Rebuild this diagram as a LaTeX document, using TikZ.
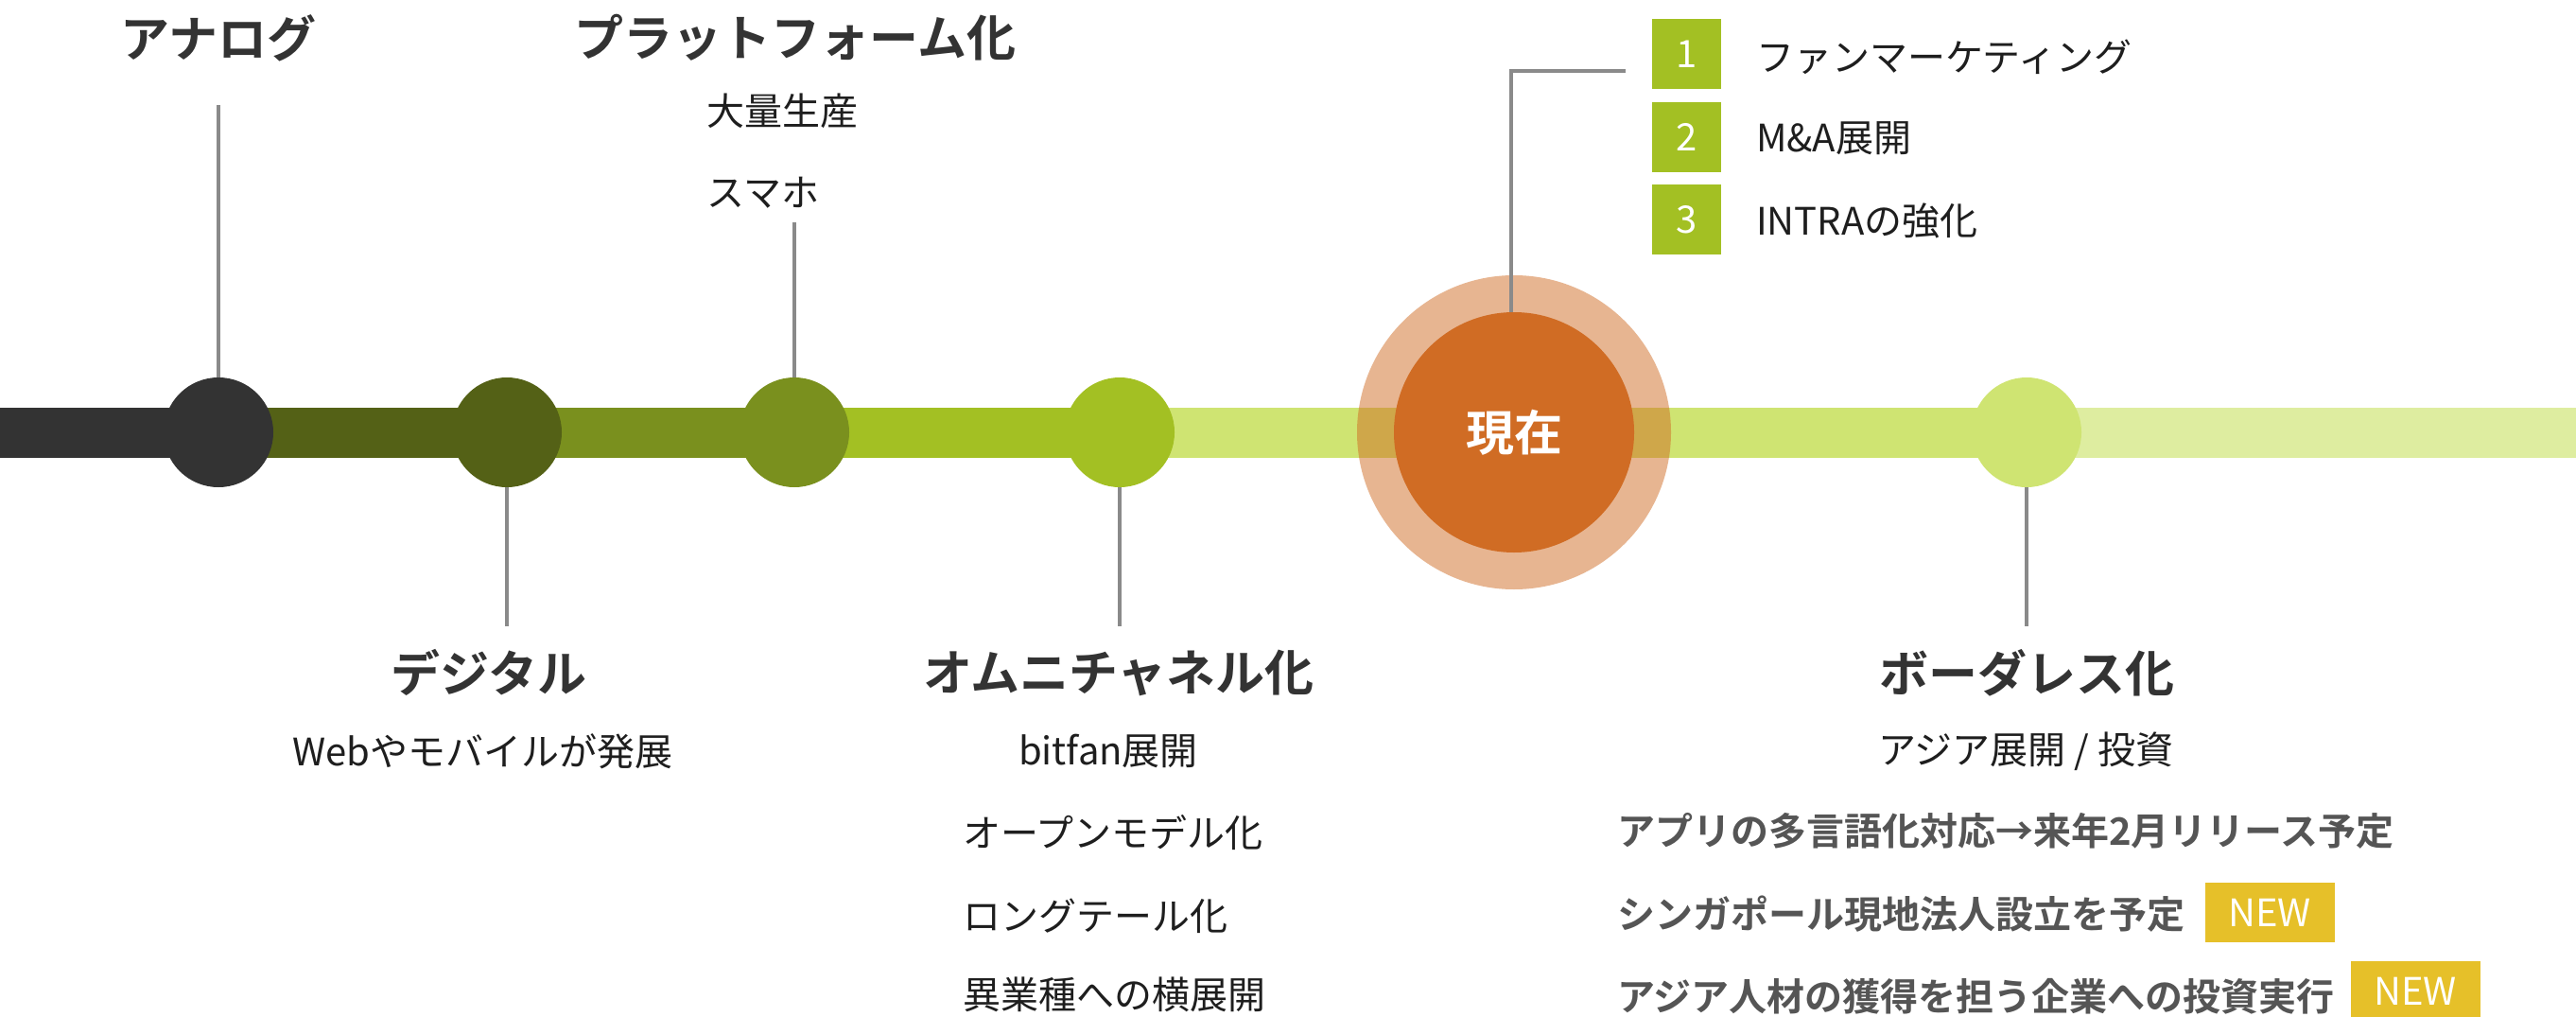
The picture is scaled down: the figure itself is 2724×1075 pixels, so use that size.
\documentclass[tikz,border=0pt]{standalone}
\usepackage{fontspec}
\setmainfont{Noto Sans CJK JP}[BoldFont={Noto Sans CJK JP Bold}]
\definecolor{darkc}{HTML}{333333}
\definecolor{olivea}{HTML}{546116}
\definecolor{oliveb}{HTML}{7A901E}
\definecolor{greenc}{HTML}{A3C023}
\definecolor{lightc}{HTML}{CFE472}
\definecolor{lighterc}{HTML}{DEEDA0}
\definecolor{orangec}{HTML}{D06C24}
\definecolor{linec}{HTML}{8A8A8A}
\definecolor{titlec}{HTML}{333333}
\definecolor{subc}{HTML}{1E1E1E}
\definecolor{boldgray}{HTML}{555555}
\definecolor{newc}{HTML}{E6C029}
\tikzset{
  titletext/.style={font=\bfseries\fontsize{52}{60}\selectfont, text=titlec, inner sep=0},
  subtext/.style={font=\fontsize{40}{48}\selectfont, text=subc, inner sep=0},
  boldsub/.style={font=\bfseries\fontsize{40}{48}\selectfont, text=boldgray, inner sep=0},
  conn/.style={draw=linec, line width=4},
  barseg/.style={line width=53, line cap=butt},
  dot/.style={circle, inner sep=0, minimum size=116},
  numbox/.style={fill=greenc, minimum width=73, minimum height=74, inner sep=0, text=white, font=\fontsize{40}{48}\selectfont},
  newbox/.style={fill=newc, minimum width=137, minimum height=63, inner sep=0, text=white, font=\fontsize{40}{48}\selectfont},
}
\begin{document}
\begin{tikzpicture}[x=1pt,y=-1pt]
\useasboundingbox (0,0) rectangle (2724,1075);
\fill[white] (0,0) rectangle (2724,1075);
% centres
\coordinate (L) at (0,457);
\coordinate (ca) at (231,457);
\coordinate (cd) at (536,457);
\coordinate (cp) at (840,457);
\coordinate (co) at (1184,457);
\coordinate (cn) at (1601,457);
\coordinate (cb) at (2143,457);
\coordinate (R) at (2724,457);
% bar
\draw[barseg, darkc] (L) -- (ca);
\draw[barseg, olivea] (ca) -- (cd);
\draw[barseg, oliveb] (cd) -- (cp);
\draw[barseg, greenc] (cp) -- (co);
\draw[barseg, lightc] (co) -- (cn);
\draw[barseg, lightc] (cn) -- (cb);
\draw[barseg, lighterc] (cb) -- (R);
% circles
\node[dot, fill=darkc] (a) at (ca) {};
\node[dot, fill=olivea] (d) at (cd) {};
\node[dot, fill=oliveb] (p) at (cp) {};
\node[dot, fill=greenc] (o) at (co) {};
\node[circle, inner sep=0, minimum size=332, fill=orangec, fill opacity=0.5] (nowout) at (cn) {};
\node[circle, inner sep=0, minimum size=254, fill=orangec, text=white, font=\bfseries\fontsize{51}{60}\selectfont] (now) at (cn) {現在};
\node[dot, fill=lightc] (b) at (cb) {};
% texts
\node[titletext] (ta) at (231,40) {アナログ};
\node[titletext] (tp) at (841,40) {プラットフォーム化};
\node[subtext, anchor=west] (tp1) at (747,117) {大量生産};
\node[subtext, anchor=west] (tp2) at (747,204) {スマホ};
\node[titletext] (td) at (517,711) {デジタル};
\node[subtext] (td1) at (510,794) {Webやモバイルが発展};
\node[titletext] (to) at (1183,711) {オムニチャネル化};
\node[subtext] (to1) at (1172,794) {bitfan展開};
\node[subtext, anchor=west] (to2) at (1018,880) {オープンモデル化};
\node[subtext, anchor=west] (to3) at (1018,968) {ロングテール化};
\node[subtext, anchor=west] (to4) at (1018,1051) {異業種への横展開};
\node[titletext] (tb) at (2143,711) {ボーダレス化};
\node[subtext] (tb1) at (2142,794) {アジア展開 / 投資};
\node[boldsub, anchor=west] (tb2) at (1710,878) {アプリの多言語化対応→来年2月リリース予定};
\node[boldsub, anchor=west] (tb3) at (1710,966) {シンガポール現地法人設立を予定};
\node[boldsub, anchor=west] (tb4) at (1710,1053) {アジア人材の獲得を担う企業への投資実行};
\node[newbox] (new1) at (2400,964.5) {NEW};
\node[newbox] (new2) at (2554,1047.5) {NEW};
% numbered list
\node[numbox] (n1) at (1783.5,57) {1};
\node[numbox] (n2) at (1783.5,145) {2};
\node[numbox] (n3) at (1783.5,232.5) {3};
\node[subtext, anchor=west] (l1) at (1857,60) {ファンマーケティング};
\node[subtext, anchor=west] (l2) at (1857,146) {M\&A展開};
\node[subtext, anchor=west] (l3) at (1857,233) {INTRAの強化};
% connectors
\coordinate (ea) at (231,111);
\coordinate (ep) at (840,235);
\coordinate (ed) at (536,662);
\coordinate (eo) at (1184,662);
\coordinate (eb) at (2143,662);
\coordinate (en1) at (1598,75);
\coordinate (en2) at (1719,75);
\draw[conn] (a.north) -- (ea);
\draw[conn] (p.north) -- (ep);
\draw[conn] (d.south) -- (ed);
\draw[conn] (o.south) -- (eo);
\draw[conn] (b.south) -- (eb);
\draw[conn] (now.north -| en1) -- (en1) -- (en2);
\end{tikzpicture}
\end{document}
